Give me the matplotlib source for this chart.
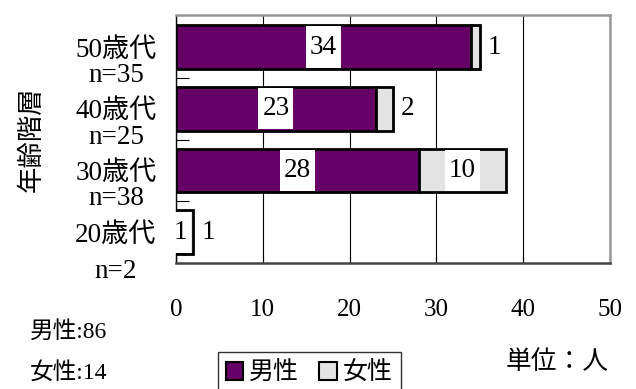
import numpy as np
import matplotlib.pyplot as plt
from matplotlib.patches import Patch
from matplotlib.path import Path

plt.rcParams['font.family'] = ['Liberation Serif', 'Noto Sans CJK JP']

groups = ["50歳代", "40歳代", "30歳代", "20歳代"]
n_labels = ["n=35", "n=25", "n=38", "n=2"]
male = [34, 23, 28, 1]
female = [1, 2, 10, 1]
xticks = [0, 10, 20, 30, 40, 50]

MALE_C = '#660066'
FEMALE_C = '#e3e3e3'
SERIF = ['Liberation Serif', 'Noto Sans CJK JP']
SANS = ['Noto Sans CJK JP', 'DejaVu Sans']


def tallbox(x0, y0, width, height, mutation_size):
    # white label box, taller than wide like the spreadsheet labels
    px, py = 0.14 * mutation_size, 0.30 * mutation_size
    x1, y1 = x0 - px, y0 - py
    x2, y2 = x0 + width + px, y0 + height + py
    return Path([(x1, y1), (x2, y1), (x2, y2), (x1, y2), (x1, y1)], closed=True)


fig = plt.figure(figsize=(6.36, 3.89), dpi=100)
ax = fig.add_axes([176/636, 1-263/389, 434/636, 248/389])

ypos = np.arange(len(groups))[::-1]
h = 0.71
ax.barh(ypos, male, height=h, color=MALE_C, edgecolor='black', linewidth=2.0, zorder=2)
ax.barh(ypos, female, left=male, height=h, color=FEMALE_C, edgecolor='black', linewidth=2.0, zorder=2)

box = dict(boxstyle=tallbox, facecolor='white', edgecolor='none')
for y, m, f in zip(ypos, male, female):
    ax.text(m/2, y, str(m), ha='center', va='center', fontsize=19.5, bbox=box, zorder=5)
    if f >= 5:
        ax.text(m + f/2, y, str(f), ha='center', va='center', fontsize=19.5, bbox=box, zorder=5)
    else:
        ax.text(m + f + 1.7, y, str(f), ha='center', va='center', fontsize=19.5, zorder=5)

ax.set_xlim(0, 50)
ax.set_ylim(-0.5, 3.52)
ax.set_xticks(xticks)
ax.set_xticklabels([str(t) for t in xticks], fontsize=18)
ax.tick_params(axis='x', direction='in', length=5, pad=26, width=0.8)
ax.xaxis.grid(True, color='black', linewidth=0.8, zorder=0)
ax.set_axisbelow(True)

ax.set_yticks(ypos)
ax.set_yticklabels(groups, fontsize=19.5)
ax.tick_params(axis='y', which='major', length=0, pad=14)
ax.set_yticks(ypos[:-1] - 0.5, minor=True)
ax.tick_params(axis='y', which='minor', direction='in', length=9, width=0.8)

for y, nl, g in zip(ypos, n_labels, groups):
    off = 0.63 if g == "20歳代" else 0.46
    ax.text(-60/434, y - off, nl, transform=ax.get_yaxis_transform(),
            ha='center', va='center', fontsize=19.5)

for s in ['top', 'right']:
    ax.spines[s].set_color('#999999')
    ax.spines[s].set_linewidth(1.8)
ax.spines['left'].set_linewidth(1.0)
ax.spines['bottom'].set_linewidth(1.8)
ax.spines['bottom'].set_color('#444444')

fig.text(31/636, 1-139/389, "年齢階層", rotation=90, ha='center', va='center',
         fontsize=19, family=SANS)

fig.text(30/636, 1-332/389, "男性:86", ha='left', va='center', fontsize=17, family=SERIF)
fig.text(30/636, 1-373/389, "女性:14", ha='left', va='center', fontsize=17, family=SERIF)
fig.text(557/636, 1-362/389, "単位：人", ha='center', va='center', fontsize=18.5, family=SANS)

handles = [Patch(facecolor=MALE_C, edgecolor='black', linewidth=1.5, label='男性'),
           Patch(facecolor=FEMALE_C, edgecolor='black', linewidth=1.5, label='女性')]
fig.legend(handles=handles, loc='upper left', bbox_to_anchor=(218/636, 1-352/389),
           ncol=2, frameon=True, fancybox=False, edgecolor='black',
           prop={'family': SANS, 'size': 18}, handlelength=0.7, handleheight=0.7,
           handletextpad=0.25, columnspacing=0.8, borderpad=0.3, borderaxespad=0)

fig.savefig('out.png', dpi=100)
